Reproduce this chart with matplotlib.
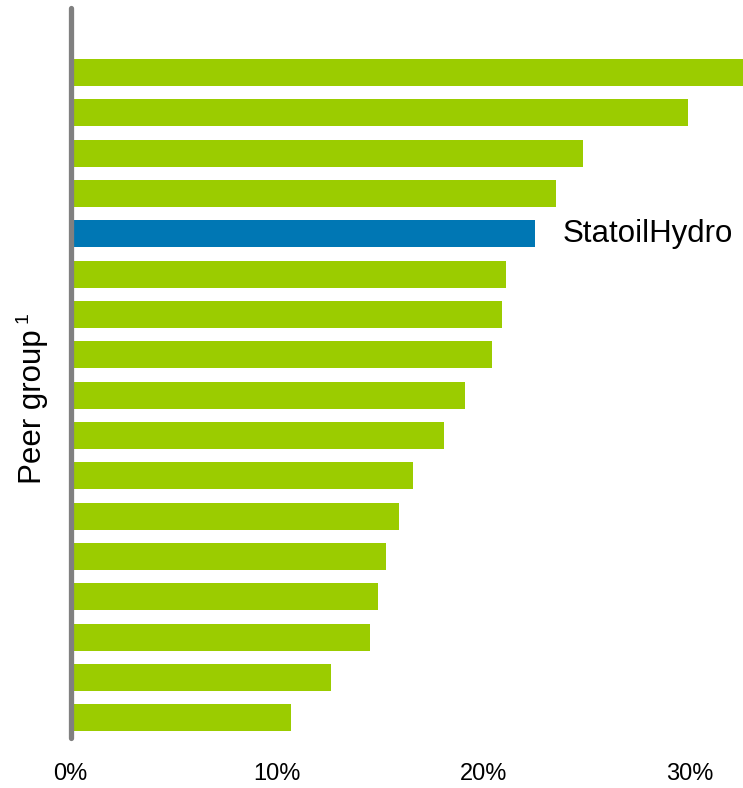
import numpy as np
import matplotlib.pyplot as plt

plt.rcParams['font.family'] = ['Liberation Sans', 'DejaVu Sans']

# ROACE, peer group ranked (top to bottom)
companies = ['Peer 1', 'Peer 2', 'Peer 3', 'Peer 4', 'StatoilHydro', 'Peer 6',
             'Peer 7', 'Peer 8', 'Peer 9', 'Peer 10', 'Peer 11', 'Peer 12',
             'Peer 13', 'Peer 14', 'Peer 15', 'Peer 16', 'Peer 17']
values = [33.5, 29.9, 24.8, 23.5, 22.5, 21.1, 20.9, 20.4, 19.1, 18.1,
          16.6, 15.9, 15.3, 14.9, 14.5, 12.6, 10.7]
tick_values = [0, 10, 20, 30]
tick_labels = ['0%', '10%', '20%', '30%']

green = '#9bcc00'
blue = '#0077b4'
colors = [blue if c == 'StatoilHydro' else green for c in companies]

fig = plt.figure(figsize=(7.43, 7.88), dpi=100)
ax = fig.add_axes([70.5 / 743, 50 / 788, 1 - 70.5 / 743, 730 / 788])

y = np.arange(len(companies))
ax.barh(y, values, height=0.67, color=colors, zorder=1)

ax.set_xlim(0, 32.57)
ax.set_ylim(16.5, -1.6)

for s in ['top', 'right', 'bottom']:
    ax.spines[s].set_visible(False)
ax.spines['left'].set_color('#808080')
ax.spines['left'].set_linewidth(3.8)
ax.spines['left'].set_capstyle('round')
ax.spines['left'].set_zorder(3)

ax.set_yticks([])
ax.set_xticks(tick_values)
ax.set_xticklabels(tick_labels, fontsize=17)
ax.tick_params(axis='x', length=0, pad=18)

# label next to the highlighted bar
i = companies.index('StatoilHydro')
ax.text(values[i] + 1.35, i, 'StatoilHydro', fontsize=22.5, va='center', ha='left')

fig.text(33 / 743, 1 - 407 / 788, 'Peer group', rotation=90, fontsize=22.5,
         ha='center', va='center')
fig.text(23 / 743, 1 - 318 / 788, '1', rotation=90, fontsize=14,
         ha='center', va='center')

fig.savefig('out.png', dpi=100)
